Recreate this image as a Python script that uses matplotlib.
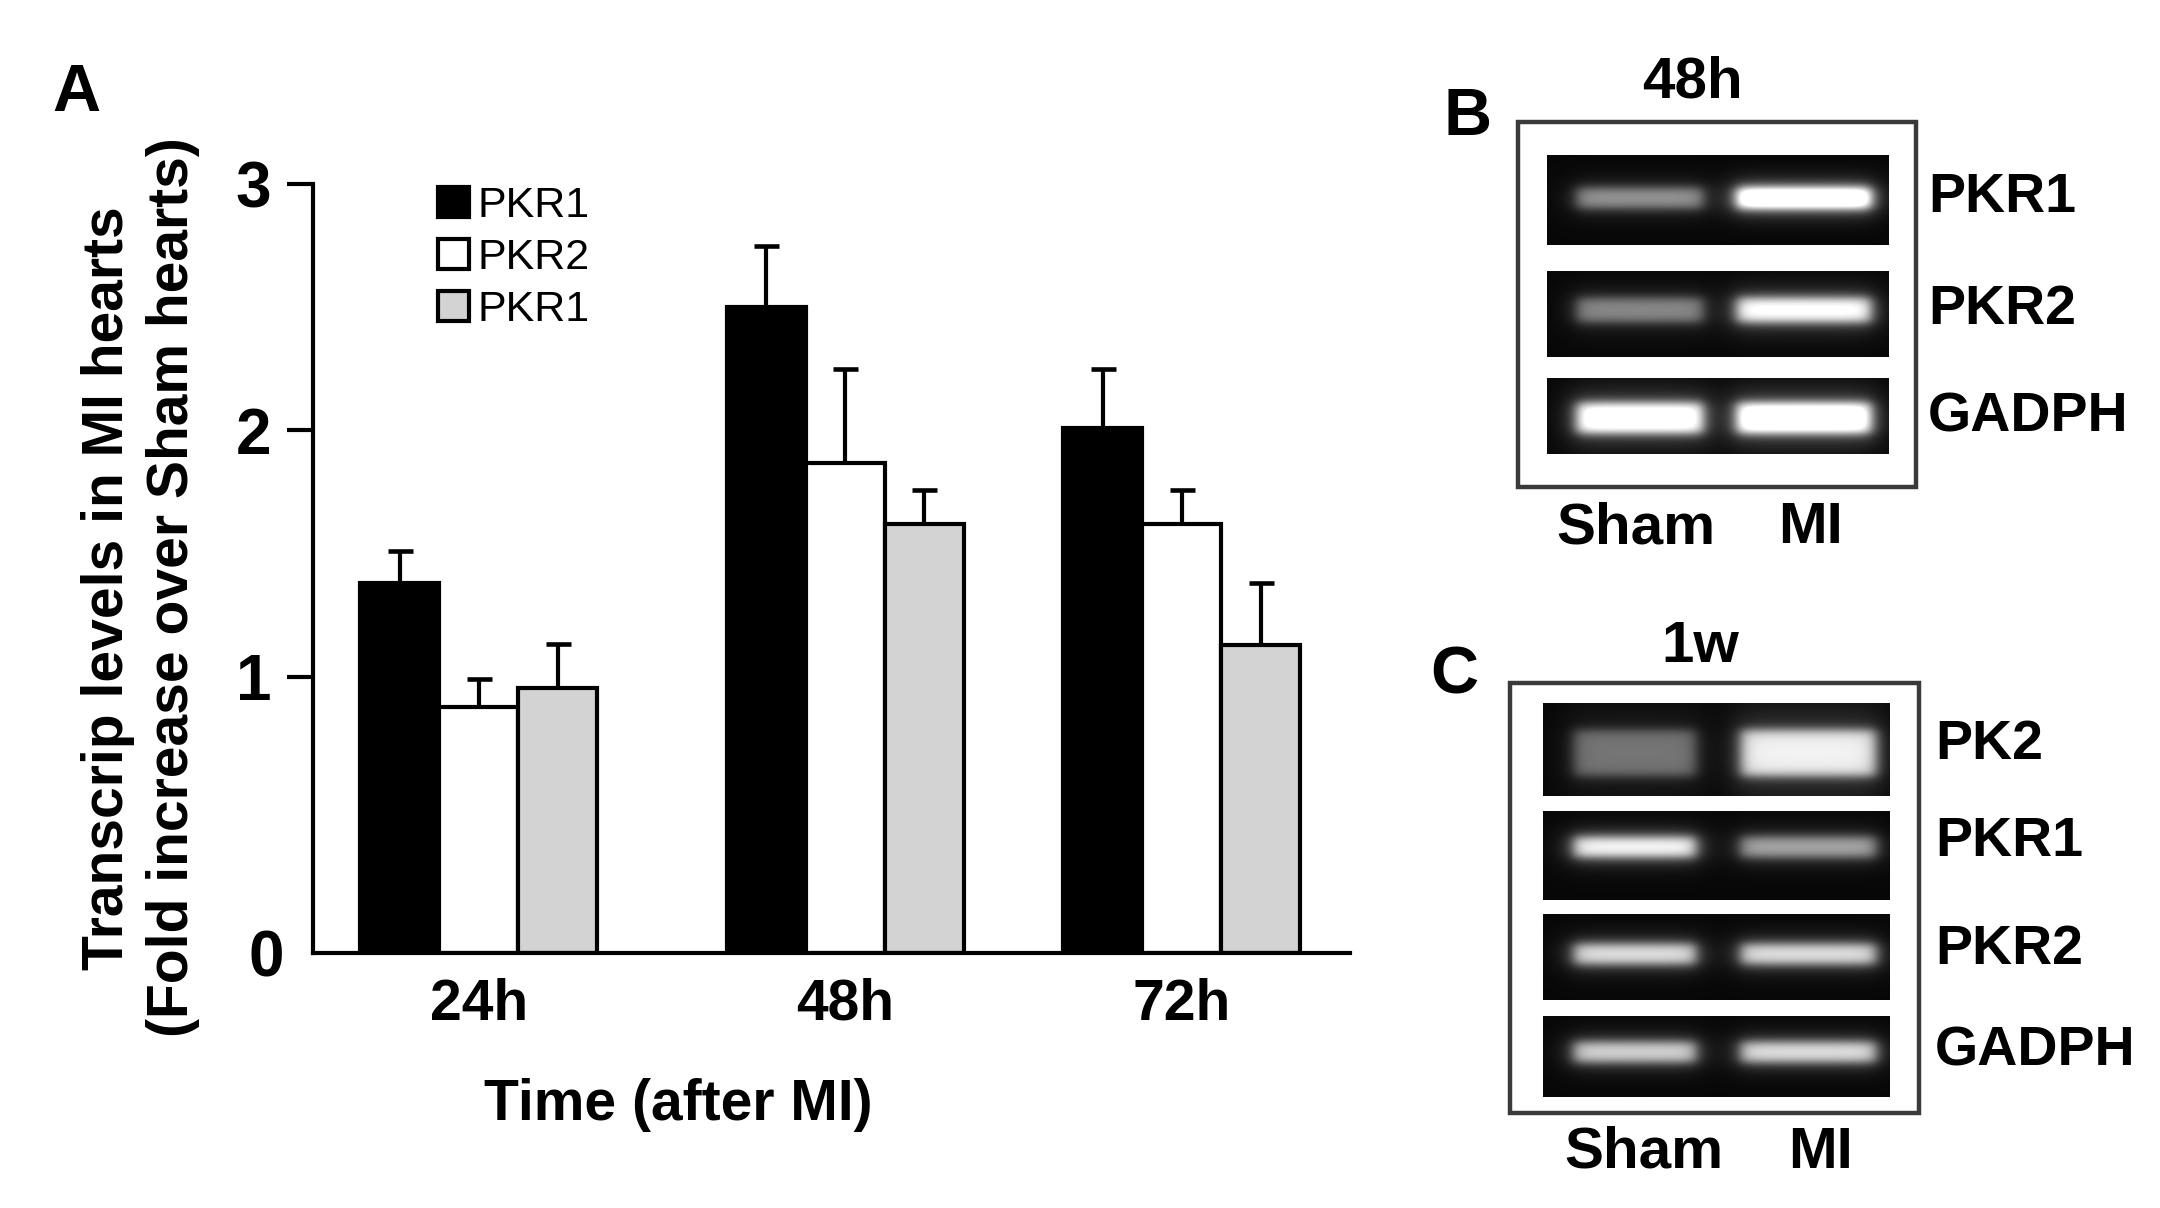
import numpy as np
import matplotlib
matplotlib.use('Agg')
import matplotlib.pyplot as plt
from matplotlib.patches import Rectangle
from matplotlib.transforms import ScaledTranslation

plt.rcParams['font.family'] = ['Liberation Sans', 'DejaVu Sans']

# ---------------- Panel A data ----------------
categories = ['24h', '48h', '72h']
series_names = ['PKR1', 'PKR2', 'PKR1']
series_colors = ['#000000', '#ffffff', '#d3d3d3']
pkr1_vals = [1.38, 2.50, 2.01]
pkr1_err = [0.13, 0.25, 0.24]
pkr2_vals = [0.88, 1.87, 1.62]
pkr2_err = [0.11, 0.38, 0.14]
pkr1b_vals = [0.955, 1.62, 1.13]
pkr1b_err = [0.18, 0.14, 0.25]
y_ticks = [0, 1, 2, 3]
x_label = 'Time (after MI)'
y_label_1 = 'Transcrip levels in MI hearts'
y_label_2 = '(Fold increase over Sham hearts)'

# ---------------- Gel panels (band intensities) ----------------
lanes = ['Sham', 'MI']
gel_b_title = '48h'
gel_b_rows = ['PKR1', 'PKR2', 'GADPH']
gel_b_sham = [0.55, 0.50, 1.10]
gel_b_mi = [1.35, 1.00, 1.20]
gel_c_title = '1w'
gel_c_rows = ['PK2', 'PKR1', 'PKR2', 'GADPH']
gel_c_sham = [0.42, 0.95, 0.85, 0.80]
gel_c_mi = [0.90, 0.62, 0.85, 0.85]

# ---------------- figure ----------------
W, H = 2160, 1208
fig = plt.figure(figsize=(W / 100, H / 100), dpi=100)
fig.patch.set_facecolor('white')

def fx(px):
    return px / W

def fy(py):
    return 1 - py / H

ymin = -0.12
ax = fig.add_axes([fx(313), fy(953), (1350 - 313) / W, (953 - 184) / H])

group_pos = np.array([2.1, 6.74, 11.0])
bw = 1.0
offsets = [-1, 0, 1]
all_vals = [pkr1_vals, pkr2_vals, pkr1b_vals]
all_errs = [pkr1_err, pkr2_err, pkr1b_err]
for vals, errs, col, name, off in zip(all_vals, all_errs, series_colors, series_names, offsets):
    x = group_pos + off * bw
    v = np.array(vals)
    ax.bar(x, v - ymin, bw, bottom=ymin, color=col, edgecolor='black',
           linewidth=3.0, label=name, zorder=2)
    ax.errorbar(x, v, yerr=[np.zeros(len(v)), errs], fmt='none', ecolor='black',
                elinewidth=3.0, capsize=9, capthick=3.3, zorder=1)

ax.set_xlim(0, 13.13)
ax.set_ylim(ymin, 3.0)
for s in ['top', 'right']:
    ax.spines[s].set_visible(False)
for s in ['left', 'bottom']:
    ax.spines[s].set_linewidth(3.0)

tick_pos = [ymin if t == 0 else t for t in y_ticks]
ax.set_yticks(tick_pos)
ax.set_yticklabels([str(t) for t in y_ticks], fontsize=46, fontweight='bold')
ax.tick_params(axis='y', length=19, width=3.0, pad=11)
t0 = ax.yaxis.get_major_ticks()[0]
t0.tick1line.set_visible(False)
t0.label1.set_transform(t0.label1.get_transform() + ScaledTranslation(0.13, 0, fig.dpi_scale_trans))

ax.set_xticks(group_pos)
ax.set_xticklabels(categories, fontsize=41, fontweight='bold')
ax.tick_params(axis='x', length=0, pad=18)

leg = ax.legend(loc='upper left', bbox_to_anchor=(fx(438), fy(186)),
                bbox_transform=fig.transFigure, frameon=False, fontsize=31,
                handlelength=0.72, handleheight=0.72, handletextpad=0.2,
                labelspacing=0.28, borderpad=0, borderaxespad=0)

# ---------------- overlay for text and gels ----------------
ov = fig.add_axes([0, 0, 1, 1], facecolor='none')
ov.set_autoscale_on(False)
ov.set_xlim(0, W)
ov.set_ylim(H, 0)
ov.axis('off')

ov.text(76, 94, 'A', fontsize=48, fontweight='bold', ha='center', va='center')
ov.text(108, 588, y_label_1, rotation=90, fontsize=41, fontweight='bold', ha='center', va='center')
ov.text(173, 587, y_label_2, rotation=90, fontsize=41, fontweight='bold', ha='center', va='center')
ov.text(678, 1105, x_label, fontsize=41, fontweight='bold', ha='center', va='center')


def sig(z):
    return 1.0 / (1.0 + np.exp(-z))


def draw_gel(box, strip_x, strips, band_y, band_h, sham, mi, lane_x, rows,
             label_x, label_y, lane_label_y, lane_label_x, title, title_xy, letter, letter_xy):
    x0, y0, x1, y1 = box
    ov.add_patch(Rectangle((x0, y0), x1 - x0, y1 - y0, fill=False, edgecolor='#3a3a3a', lw=3.2))
    sx0, sx1 = strip_x
    w = sx1 - sx0
    for (ya, yb), yc, th, i_s, i_m in zip(strips, band_y, band_h, sham, mi):
        h = yb - ya
        yy, xx = np.mgrid[0:h, 0:w] + 0.5
        img = np.full((h, w), 0.03)
        for (la, lb), inten in zip(lane_x, [i_s, i_m]):
            xa, xb = la - sx0, lb - sx0
            c = yc - ya
            sxf = sig((xx - xa) / 4.0) * sig((xb - xx) / 4.0)
            syf = sig((yy - (c - th / 2)) / 3.0) * sig(((c + th / 2) - yy) / 3.0)
            glow = sig((xx - xa + 8) / 9.0) * sig((xb + 8 - xx) / 9.0) * np.exp(-((yy - c) / th) ** 2)
            img += inten * (0.8 * sxf * syf + 0.22 * glow)
        img = np.clip(img, 0, 1)
        ov.imshow(img, cmap='gray', vmin=0, vmax=1, extent=(sx0, sx1, yb, ya),
                  interpolation='bilinear', aspect='auto', origin='upper')
    for name, ly in zip(rows, label_y):
        ov.text(label_x, ly, name, fontsize=40, fontweight='bold', ha='left', va='center')
    for name, lx in zip(lanes, lane_label_x):
        ov.text(lx, lane_label_y, name, fontsize=42, fontweight='bold', ha='center', va='center')
    ov.text(title_xy[0], title_xy[1], title, fontsize=42, fontweight='bold', ha='center', va='center')
    ov.text(letter_xy[0], letter_xy[1], letter, fontsize=48, fontweight='bold', ha='center', va='center')


draw_gel(box=(1518, 122, 1916, 487), strip_x=(1547, 1889),
         strips=[(155, 245), (271, 357), (378, 454)],
         band_y=[198, 310, 418], band_h=[20, 24, 30],
         sham=gel_b_sham, mi=gel_b_mi,
         lane_x=[(1577, 1703), (1737, 1871)], rows=gel_b_rows,
         label_x=1928, label_y=[198, 310, 418],
         lane_label_y=528, lane_label_x=[1636, 1811],
         title=gel_b_title, title_xy=(1692, 83), letter='B', letter_xy=(1468, 118))

draw_gel(box=(1510, 683, 1919, 1113), strip_x=(1543, 1890),
         strips=[(703, 796), (811, 900), (914, 1000), (1016, 1097)],
         band_y=[753, 847, 954, 1052], band_h=[46, 20, 20, 20],
         sham=gel_c_sham, mi=gel_c_mi,
         lane_x=[(1574, 1696), (1741, 1876)], rows=gel_c_rows,
         label_x=1935, label_y=[745, 842, 950, 1052],
         lane_label_y=1153, lane_label_x=[1644, 1821],
         title=gel_c_title, title_xy=(1700, 647), letter='C', letter_xy=(1454, 677))

fig.savefig('out.png', dpi=100)
